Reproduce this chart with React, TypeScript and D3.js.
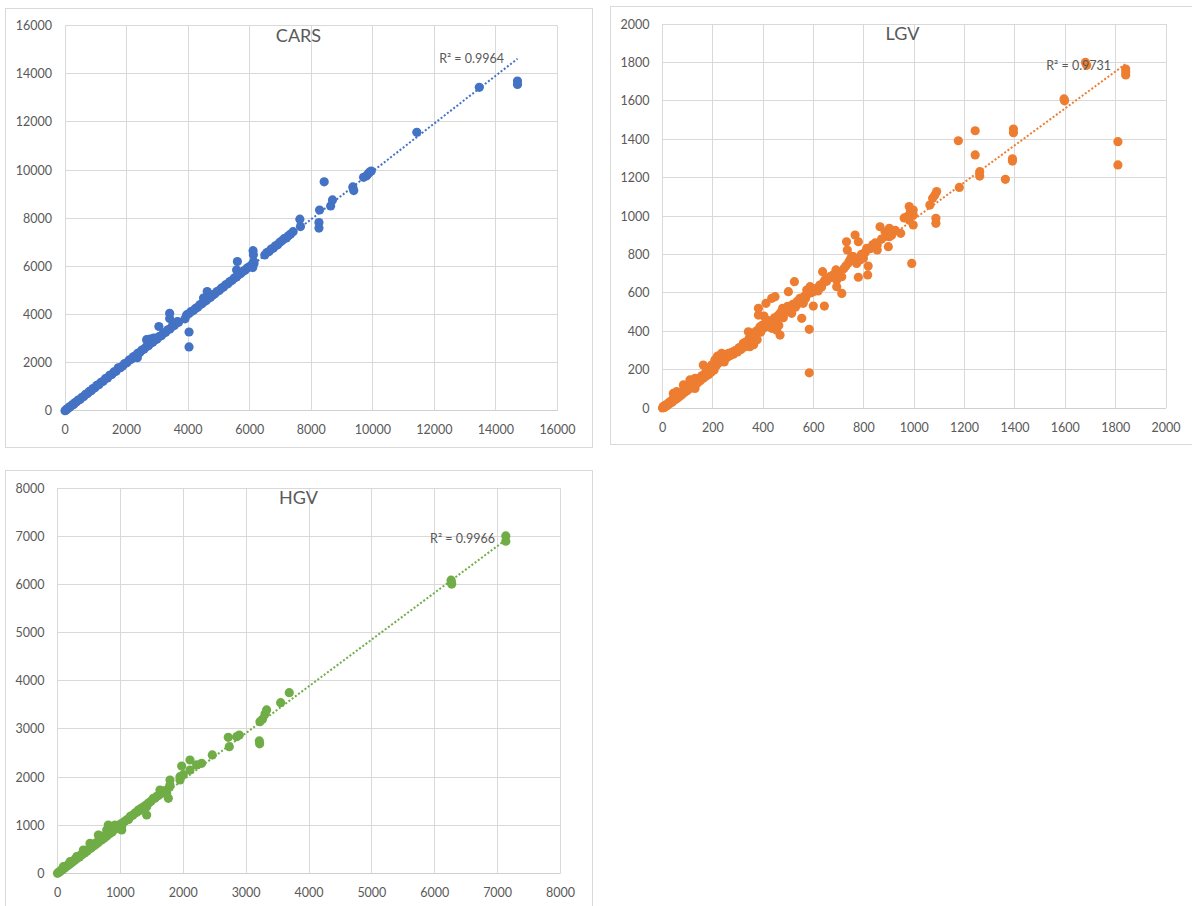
import React from "react";
import * as d3 from "d3";

// ---------- DATA ----------
const carsPoints: [number, number][] = [
  [0,0],[30,20],[60,70],[100,90],[140,150],[180,170],[230,240],[280,260],[330,340],[380,370],[430,440],[490,470],[550,560],[610,590],[670,680],[730,710],[790,800],[850,830],[910,920],[970,950],[1030,1050],[1100,1080],[1170,1180],[1240,1220],[1310,1330],[1380,1360],[1450,1470],[1520,1500],[1590,1610],[1660,1640],[1730,1780],[1800,1790],[1870,1860],[1940,1960],[2010,1990],[2080,2100],[2150,2140],[2220,2240],[2290,2280],[2350,2200],[2360,2380],[2430,2420],[2500,2520],[2570,2560],[2640,2660],[2650,2950],[2710,2700],[2760,2980],[2780,2800],[2850,2840],[2880,3020],[2920,2940],[2990,2980],[3050,3500],[3060,3080],[3130,3120],[3200,3220],[3270,3260],[3340,3360],[3400,4050],[3400,3830],[3410,3400],[3480,3500],[3550,3540],[3620,3640],[3650,3700],[3690,3680],[3900,3820],[3950,3980],[4030,4040],[4030,3270],[4030,2650],[4100,4120],[4170,4160],[4240,4250],[4310,4300],[4380,4400],[4450,4440],[4500,4680],[4520,4530],[4590,4580],[4620,4950],[4660,4670],[4730,4720],[4800,4810],[4870,4860],[4940,4950],[5010,5000],[5080,5090],[5150,5140],[5220,5230],[5290,5280],[5360,5370],[5430,5420],[5500,5510],[5570,5560],[5575,5850],[5600,6200],[5640,5650],[5710,5700],[5780,5790],[5850,5840],[5920,5930],[5990,5980],[6060,6050],[6110,6650],[6120,6480],[6130,6200],[6140,6120],[6100,5950],[6490,6470],[6560,6570],[6630,6620],[6700,6720],[6770,6760],[6840,6850],[6910,6900],[6980,7000],[7050,7060],[7120,7150],[7190,7180],[7260,7270],[7330,7340],[7410,7440],[7630,7960],[7650,7650],[8250,7820],[8250,7590],[8270,8340],[8630,8510],[8690,8760],[8420,9510],[9350,9300],[9380,9150],[9700,9700],[9800,9760],[9850,9850],[9900,9920],[9950,9960],[11430,11570],[13460,13440],[14700,13700],[14700,13560]
];

const lgvPoints: [number, number][] = [
  [0,0],[3,8],[8,3],[12,15],[18,12],[22,25],[28,22],[32,35],[38,30],[42,48],[43,76],[48,42],[52,60],[56,85],[58,50],[62,72],[68,60],[72,80],[78,70],[82,92],[83,120],[88,82],[92,100],[98,90],[104,112],[109,146],[110,102],[115,125],[120,110],[125,135],[129,154],[129,102],[130,120],[134,150],[140,132],[145,155],[150,142],[156,168],[162,155],[162,224],[168,178],[172,165],[175,207],[178,190],[184,175],[188,200],[194,188],[195,224],[200,210],[205,198],[208,250],[210,250],[214,222],[218,270],[222,235],[226,260],[228,241],[230,245],[235,280],[235,285],[240,255],[245,240],[250,275],[255,262],[255,276],[262,285],[268,272],[275,290],[281,293],[282,280],[290,300],[298,292],[305,315],[308,311],[312,305],[320,330],[321,337],[325,318],[332,345],[338,335],[341,397],[345,365],[347,319],[350,345],[354,354],[355,390],[358,360],[362,330],[368,375],[372,400],[374,389],[376,355],[381,484],[381,519],[385,410],[387,423],[390,395],[395,430],[400,415],[403,479],[408,440],[411,545],[415,425],[420,455],[428,440],[434,571],[434,415],[440,441],[445,470],[447,580],[450,455],[453,406],[458,480],[462,430],[467,493],[467,380],[472,500],[477,519],[480,470],[486,505],[493,502],[497,530],[500,606],[505,515],[513,493],[518,540],[524,658],[528,525],[535,555],[542,545],[546,571],[550,565],[553,467],[559,545],[562,580],[568,570],[573,614],[578,595],[583,410],[583,183],[586,632],[590,600],[596,615],[599,606],[599,531],[605,620],[612,623],[618,610],[625,640],[632,630],[636,710],[640,655],[643,531],[645,667],[652,660],[658,675],[665,684],[672,680],[680,695],[689,719],[692,667],[692,632],[700,700],[705,690],[712,684],[712,597],[720,725],[728,740],[731,866],[734,823],[740,760],[746,775],[752,790],[758,788],[765,901],[768,770],[771,753],[778,866],[778,681],[784,771],[790,800],[798,780],[805,810],[811,831],[815,693],[817,739],[825,830],[835,850],[845,860],[853,849],[853,823],[864,944],[870,880],[884,918],[890,905],[897,840],[901,936],[901,892],[910,900],[925,925],[946,910],[960,990],[975,1000],[980,1049],[985,1030],[990,753],[996,1031],[996,1005],[980,979],[996,953],[1062,1057],[1073,1092],[1082,1109],[1089,1127],[1086,988],[1086,962],[1179,1149],[1175,1392],[1242,1444],[1242,1318],[1260,1231],[1260,1208],[1362,1191],[1394,1453],[1394,1434],[1390,1286],[1390,1298],[1595,1610],[1597,1600],[1680,1800],[1685,1785],[1809,1387],[1809,1266],[1840,1765],[1840,1750],[1840,1735]
];

const hgvPoints: [number, number][] = [
  [0,0],[15,20],[30,25],[50,55],[70,65],[90,100],[93,138],[110,105],[130,140],[150,145],[170,180],[190,185],[199,242],[210,220],[230,225],[250,260],[270,265],[290,300],[305,346],[310,305],[330,345],[350,340],[370,380],[390,385],[410,430],[411,484],[430,420],[450,470],[470,460],[490,500],[510,520],[517,623],[530,520],[550,570],[570,560],[590,610],[610,600],[630,650],[650,640],[650,796],[660,790],[680,700],[700,690],[720,740],[740,730],[760,780],[780,770],[782,900],[800,820],[808,1004],[830,820],[850,870],[870,860],[890,910],[915,1004],[920,920],[950,960],[980,970],[1000,1020],[1021,969],[1021,900],[1040,1050],[1070,1080],[1100,1110],[1130,1120],[1153,1177],[1170,1190],[1200,1210],[1230,1250],[1260,1270],[1286,1315],[1300,1300],[1330,1350],[1360,1370],[1390,1400],[1418,1385],[1418,1211],[1430,1440],[1460,1470],[1490,1500],[1524,1558],[1550,1560],[1580,1600],[1610,1620],[1630,1731],[1650,1660],[1680,1690],[1710,1720],[1736,1662],[1763,1558],[1780,1790],[1789,1939],[1789,1835],[1948,1939],[1948,2008],[1975,2230],[2000,2050],[2107,2147],[2107,2354],[2213,2251],[2293,2285],[2462,2459],[2716,2826],[2732,2632],[2849,2839],[2891,2874],[3210,2750],[3215,2690],[3220,3151],[3260,3200],[3300,3310],[3326,3394],[3549,3546],[3686,3754],[6260,6090],[6265,6040],[6270,6010],[7130,7010],[7130,6900]
];

const carsTicks = [0, 2000, 4000, 6000, 8000, 10000, 12000, 14000, 16000];
const lgvTicks = [0, 200, 400, 600, 800, 1000, 1200, 1400, 1600, 1800, 2000];
const hgvTicks = [0, 1000, 2000, 3000, 4000, 5000, 6000, 7000, 8000];

const titles = ["CARS", "LGV", "HGV"];
const rSquaredLabels = ["R\u00B2 = 0.9964", "R\u00B2 = 0.9731", "R\u00B2 = 0.9966"];
const trendSlopes = [0.995, 0.962, 0.972];
const trendIntercepts = [0, 22, 0];
const labelAnchors: [number, number][] = [[14262, 14439], [1782, 1760], [6958, 6870]];
const colors = ["#4472C4", "#ED7D31", "#70AD47"];

// ---------- LAYOUT ----------
type Box = { x: number; y: number; w: number; h: number };
type Plot = { l: number; r: number; t: number; b: number };

const layouts: { box: Box; plot: Plot }[] = [
  { box: { x: 5, y: 8, w: 587, h: 439 }, plot: { l: 65, r: 557.5, t: 25.7, b: 410.7 } },
  { box: { x: 610, y: 6, w: 585, h: 438 }, plot: { l: 662.5, r: 1166, t: 24, b: 408 } },
  { box: { x: 5, y: 470, w: 587, h: 445 }, plot: { l: 57.5, r: 560.5, t: 488.3, b: 873.3 } },
];

const FONT = "Lato, 'Open Sans', 'Liberation Sans', sans-serif";
const TEXT = "#595959";
const GRID = "#d9d9d9";

const crisp = (v: number) => Math.round(v - 0.5) + 0.5;

function Panel({ idx, points, ticks }: { idx: number; points: [number, number][]; ticks: number[] }) {
  const { box, plot } = layouts[idx];
  const color = colors[idx];
  const x = d3.scaleLinear().domain([ticks[0], ticks[ticks.length - 1]]).range([plot.l, plot.r]);
  const y = d3.scaleLinear().domain([ticks[0], ticks[ticks.length - 1]]).range([plot.b, plot.t]);
  const [xMin, xMax] = d3.extent(points, (d) => d[0]) as [number, number];
  const slope = trendSlopes[idx];
  const icpt = trendIntercepts[idx];
  const trend = d3.line<number>().x((v) => x(v)).y((v) => y(icpt + slope * v))([xMin, xMax]) || "";
  const [lx, ly] = labelAnchors[idx];
  return (
    <g>
      <rect x={box.x + 0.5} y={box.y + 0.5} width={box.w} height={box.h} fill="#fff" stroke={GRID} strokeWidth={1} />
      {ticks.map((t) => (
        <line key={"h" + t} x1={plot.l} x2={plot.r} y1={crisp(y(t))} y2={crisp(y(t))} stroke={t === 0 ? "#d0d0d0" : GRID} strokeWidth={1} />
      ))}
      {ticks.map((t) => (
        <line key={"v" + t} x1={crisp(x(t))} x2={crisp(x(t))} y1={plot.t} y2={plot.b} stroke={GRID} strokeWidth={1} />
      ))}
      {ticks.map((t) => (
        <text key={"yl" + t} x={plot.l - 13} y={y(t)} dy="0.36em" textAnchor="end" fontFamily={FONT} fontSize={12.5} fill={TEXT}>
          {t}
        </text>
      ))}
      {ticks.map((t) => (
        <text key={"xl" + t} x={x(t)} y={plot.b + 19} dy="0.36em" textAnchor="middle" fontFamily={FONT} fontSize={12.5} fill={TEXT}>
          {t}
        </text>
      ))}
      <text x={box.x + box.w / 2} y={box.y + 33.5} textAnchor="middle" fontFamily={FONT} fontSize={18} fill={TEXT}>
        {titles[idx]}
      </text>
      {points.map((p, i) => (
        <circle key={i} cx={x(p[0])} cy={y(p[1])} r={4.6} fill={color} />
      ))}
      <path d={trend} fill="none" stroke={color} strokeWidth={2} strokeDasharray="2 2" />
      <text x={x(lx)} y={y(ly)} textAnchor="end" fontFamily={FONT} fontSize={12.5} fill={TEXT}>
        {rSquaredLabels[idx]}
      </text>
    </g>
  );
}

export default function App() {
  return (
    <svg
      width={1192}
      height={906}
      viewBox="0 0 1192 906"
      style={{ position: "fixed", left: 0, top: 0, display: "block", background: "#fff" }}
    >
      <rect x={0} y={0} width={1192} height={906} fill="#fff" />
      <Panel idx={0} points={carsPoints} ticks={carsTicks} />
      <Panel idx={1} points={lgvPoints} ticks={lgvTicks} />
      <Panel idx={2} points={hgvPoints} ticks={hgvTicks} />
    </svg>
  );
}
